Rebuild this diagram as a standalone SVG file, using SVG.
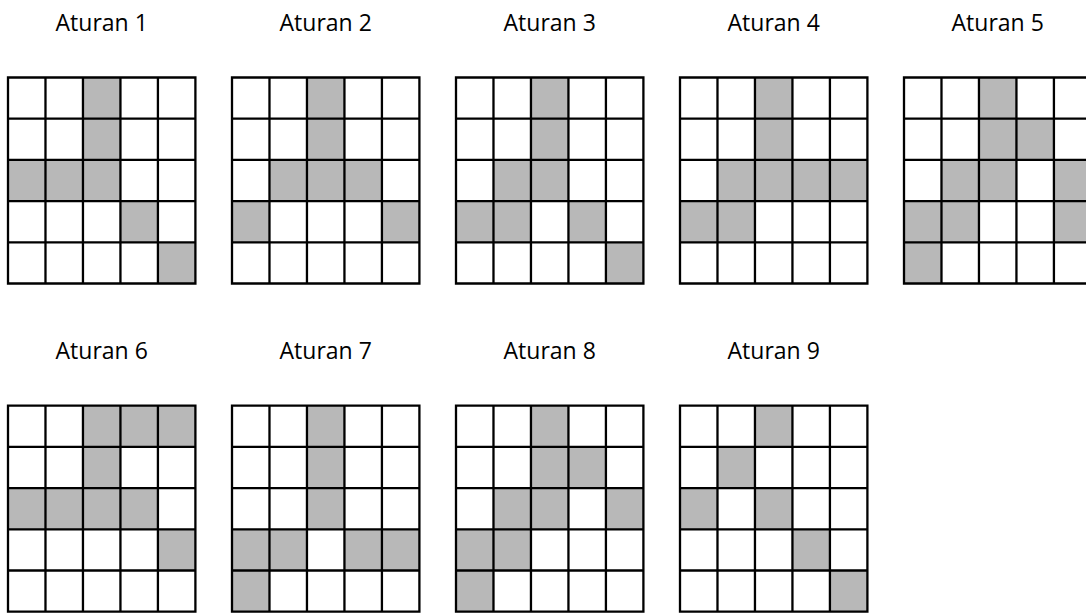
<svg xmlns="http://www.w3.org/2000/svg" xmlns:xlink="http://www.w3.org/1999/xlink" width="1086" height="613" viewBox="0 0 1086 613">
<style>
.lbl{font-family:"Open Sans","Liberation Sans",sans-serif;font-size:23px;fill:#000;text-anchor:middle}
.on{fill:#b8b8b8;stroke:none}
.gl{fill:none;stroke:#000;stroke-width:2.3}
</style>
<defs>
<path id="grid" class="gl" d="M0,0H187.4V206H0Z M37.48,0V206 M74.96,0V206 M112.44,0V206 M149.92,0V206 M0,41.2H187.4 M0,82.4H187.4 M0,123.6H187.4 M0,164.8H187.4"/>
<rect id="c" class="on" width="37.48" height="41.2"/>
</defs>
<rect width="1086" height="613" fill="#fff"/>

<g id="aturan-1">
<text class="lbl" x="101.7" y="31">Aturan 1</text>
<g transform="translate(8,77.5)">
<use xlink:href="#c" x="74.96" y="0"/><use xlink:href="#c" x="74.96" y="41.2"/>
<use xlink:href="#c" x="0" y="82.4"/><use xlink:href="#c" x="37.48" y="82.4"/><use xlink:href="#c" x="74.96" y="82.4"/>
<use xlink:href="#c" x="112.44" y="123.6"/><use xlink:href="#c" x="149.92" y="164.8"/>
<use xlink:href="#grid"/>
</g>
</g>

<g id="aturan-2">
<text class="lbl" x="325.7" y="31">Aturan 2</text>
<g transform="translate(232,77.5)">
<use xlink:href="#c" x="74.96" y="0"/><use xlink:href="#c" x="74.96" y="41.2"/>
<use xlink:href="#c" x="37.48" y="82.4"/><use xlink:href="#c" x="74.96" y="82.4"/><use xlink:href="#c" x="112.44" y="82.4"/>
<use xlink:href="#c" x="0" y="123.6"/><use xlink:href="#c" x="149.92" y="123.6"/>
<use xlink:href="#grid"/>
</g>
</g>

<g id="aturan-3">
<text class="lbl" x="549.7" y="31">Aturan 3</text>
<g transform="translate(456,77.5)">
<use xlink:href="#c" x="74.96" y="0"/><use xlink:href="#c" x="74.96" y="41.2"/>
<use xlink:href="#c" x="37.48" y="82.4"/><use xlink:href="#c" x="74.96" y="82.4"/>
<use xlink:href="#c" x="0" y="123.6"/><use xlink:href="#c" x="37.48" y="123.6"/><use xlink:href="#c" x="112.44" y="123.6"/>
<use xlink:href="#c" x="149.92" y="164.8"/>
<use xlink:href="#grid"/>
</g>
</g>

<g id="aturan-4">
<text class="lbl" x="773.7" y="31">Aturan 4</text>
<g transform="translate(680,77.5)">
<use xlink:href="#c" x="74.96" y="0"/><use xlink:href="#c" x="74.96" y="41.2"/>
<use xlink:href="#c" x="37.48" y="82.4"/><use xlink:href="#c" x="74.96" y="82.4"/><use xlink:href="#c" x="112.44" y="82.4"/><use xlink:href="#c" x="149.92" y="82.4"/>
<use xlink:href="#c" x="0" y="123.6"/><use xlink:href="#c" x="37.48" y="123.6"/>
<use xlink:href="#grid"/>
</g>
</g>

<g id="aturan-5">
<text class="lbl" x="997.7" y="31">Aturan 5</text>
<g transform="translate(904,77.5)">
<use xlink:href="#c" x="74.96" y="0"/>
<use xlink:href="#c" x="74.96" y="41.2"/><use xlink:href="#c" x="112.44" y="41.2"/>
<use xlink:href="#c" x="37.48" y="82.4"/><use xlink:href="#c" x="74.96" y="82.4"/><use xlink:href="#c" x="149.92" y="82.4"/>
<use xlink:href="#c" x="0" y="123.6"/><use xlink:href="#c" x="37.48" y="123.6"/><use xlink:href="#c" x="149.92" y="123.6"/>
<use xlink:href="#c" x="0" y="164.8"/>
<use xlink:href="#grid"/>
</g>
</g>

<g id="aturan-6">
<text class="lbl" x="101.7" y="358.5">Aturan 6</text>
<g transform="translate(8,405.7)">
<use xlink:href="#c" x="74.96" y="0"/><use xlink:href="#c" x="112.44" y="0"/><use xlink:href="#c" x="149.92" y="0"/>
<use xlink:href="#c" x="74.96" y="41.2"/>
<use xlink:href="#c" x="0" y="82.4"/><use xlink:href="#c" x="37.48" y="82.4"/><use xlink:href="#c" x="74.96" y="82.4"/><use xlink:href="#c" x="112.44" y="82.4"/>
<use xlink:href="#c" x="149.92" y="123.6"/>
<use xlink:href="#grid"/>
</g>
</g>

<g id="aturan-7">
<text class="lbl" x="325.7" y="358.5">Aturan 7</text>
<g transform="translate(232,405.7)">
<use xlink:href="#c" x="74.96" y="0"/><use xlink:href="#c" x="74.96" y="41.2"/><use xlink:href="#c" x="74.96" y="82.4"/>
<use xlink:href="#c" x="0" y="123.6"/><use xlink:href="#c" x="37.48" y="123.6"/><use xlink:href="#c" x="112.44" y="123.6"/><use xlink:href="#c" x="149.92" y="123.6"/>
<use xlink:href="#c" x="0" y="164.8"/>
<use xlink:href="#grid"/>
</g>
</g>

<g id="aturan-8">
<text class="lbl" x="549.7" y="358.5">Aturan 8</text>
<g transform="translate(456,405.7)">
<use xlink:href="#c" x="74.96" y="0"/>
<use xlink:href="#c" x="74.96" y="41.2"/><use xlink:href="#c" x="112.44" y="41.2"/>
<use xlink:href="#c" x="37.48" y="82.4"/><use xlink:href="#c" x="74.96" y="82.4"/><use xlink:href="#c" x="149.92" y="82.4"/>
<use xlink:href="#c" x="0" y="123.6"/><use xlink:href="#c" x="37.48" y="123.6"/>
<use xlink:href="#c" x="0" y="164.8"/>
<use xlink:href="#grid"/>
</g>
</g>

<g id="aturan-9">
<text class="lbl" x="773.7" y="358.5">Aturan 9</text>
<g transform="translate(680,405.7)">
<use xlink:href="#c" x="74.96" y="0"/>
<use xlink:href="#c" x="37.48" y="41.2"/>
<use xlink:href="#c" x="0" y="82.4"/><use xlink:href="#c" x="74.96" y="82.4"/>
<use xlink:href="#c" x="112.44" y="123.6"/>
<use xlink:href="#c" x="149.92" y="164.8"/>
<use xlink:href="#grid"/>
</g>
</g>

<g id="connectors"></g>
</svg>
